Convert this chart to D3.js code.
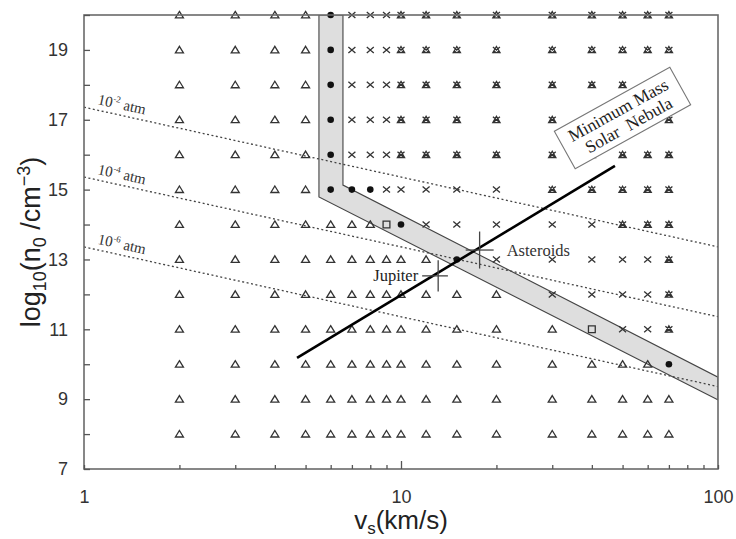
<!DOCTYPE html>
<html>
<head>
<meta charset="utf-8">
<script src="https://cdn.jsdelivr.net/npm/d3@7"></script>
<style>
  body { margin: 0; background: #fff; }
  svg { display: block; }
</style>
</head>
<body>
<svg id="chart"></svg>
<script>
// grid of runs: shock velocity (km/s) by log10 n0
var vsCols = [2, 3, 4, 5, 6, 7, 8, 9, 10, 12, 15, 20, 30, 40, 50, 60, 70];
var nRows = [20, 19, 18, 17, 16, 15, 14, 13, 12, 11, 10, 9, 8];
// t = triangle, c = filled circle, x = cross, k = cross + triangle, s = square
var markerRows = [
    "ttttcxxxkkkkkkkkk",
    "ttttcxxxkkkkkkkkk",
    "ttttcxxxkkkkkkkkk",
    "ttttcxxxkkkkkkkkk",
    "ttttcxxxkkkkkkkkk",
    "ttttcccxxxxxkkkkk",
    "tttttttscxxxxxkkk",
    "ttttttttttcxxxxxk",
    "ttttttttttttxxxxk",
    "tttttttttttttsxxk",
    "ttttttttttttttttc",
    "ttttttttttttttttt",
    "ttttttttttttttttt"
];

// shaded band
var bandV = [5.51, 5.51, 100, 100, 6.56, 6.56];
var bandN = [20, 14.79, 8.98, 9.63, 15.13, 20];

// constant pressure lines
var pressLabels = ["-2", "-4", "-6"];
var pressV = [1, 100];
var pressN = [[17.36, 13.36], [15.36, 11.36], [13.36, 9.36]];

// minimum mass solar nebula
var mmsnV = [4.7, 47.3];
var mmsnN = [10.18, 15.68];

// bodies with error crosses
var bodyNames = ["Jupiter", "Asteroids"];
var bodyV = [13.1, 17.7];
var bodyN = [12.53, 13.27];
var bodyVlo = [11.66, 16.0];
var bodyVhi = [14.06, 19.6];
var bodyNlo = [12.08, 12.74];
var bodyNhi = [12.98, 13.8];

var yTickValues = [7, 8, 9, 10, 11, 12, 13, 14, 15, 16, 17, 18, 19, 20];
var yTickLabels = [7, 9, 11, 13, 15, 17, 19];
var xTickValues = [1, 2, 3, 4, 5, 6, 7, 8, 9, 10, 20, 30, 40, 50, 60, 70, 80, 90, 100];
var xTickLabels = [1, 10, 100];

function draw() {
    var svgWidth = 736, svgHeight = 539;
    var pl = 84, pr = 718, pt = 15, pb = 469;

    var svg = d3.select("#chart")
        .attr("width", svgWidth)
        .attr("height", svgHeight);

    var x = d3.scaleLog().domain([1, 100]).range([pl, pr]);
    var y = d3.scaleLinear().domain([7, 20]).range([pb, pt]);

    svg.append("clipPath").attr("id", "plot")
        .append("rect")
        .attr("x", pl).attr("y", pt)
        .attr("width", pr - pl).attr("height", pb - pt);

    var ink = "#333";

    // band
    var bandPts = bandV.map(function(v, i) { return [x(v), y(bandN[i])]; });
    svg.append("path")
        .attr("clip-path", "url(#plot)")
        .attr("d", d3.line()(bandPts) + "Z")
        .attr("fill", "#dedede")
        .attr("stroke", "#444")
        .attr("stroke-width", 1.1);

    // dotted pressure lines
    svg.selectAll(".press")
        .data(pressN)
        .enter()
        .append("path")
        .attr("class", "press")
        .attr("clip-path", "url(#plot)")
        .attr("d", function(d) {
            return d3.line()(pressV.map(function(v, i) { return [x(v), y(d[i])]; }));
        })
        .attr("fill", "none")
        .attr("stroke", "#444")
        .attr("stroke-width", 1.3)
        .attr("stroke-dasharray", "2,2.5");

    // markers
    var points = [];
    nRows.forEach(function(n, r) {
        vsCols.forEach(function(v, c) {
            points.push({ v: v, n: n, t: markerRows[r][c] });
        });
    });

    var tri = "M0,-3.6L4,2.9L-4,2.9Z";
    var cross = "M-3.5,-3L3.5,3M-3.5,3L3.5,-3";
    var shapes = {
        t: tri,
        x: cross,
        k: cross + "M0,-3.4L3.6,2.8L-3.6,2.8Z",
        s: "M-3.4,-3.4h6.8v6.8h-6.8Z"
    };

    points.forEach(function(d) {
        if (d.t === "c") {
            svg.append("circle")
                .attr("cx", x(d.v)).attr("cy", y(d.n)).attr("r", 3.3)
                .attr("fill", "#111");
        } else {
            svg.append("path")
                .attr("transform", "translate(" + x(d.v) + "," + y(d.n) + ")")
                .attr("d", shapes[d.t])
                .attr("fill", "none")
                .attr("stroke", ink)
                .attr("stroke-width", 1.3);
        }
    });

    // frame
    svg.append("rect")
        .attr("x", pl).attr("y", pt)
        .attr("width", pr - pl).attr("height", pb - pt)
        .attr("fill", "none")
        .attr("stroke", "#6a6a6a")
        .attr("stroke-width", 1.6);

    // axes
    var yAxis = d3.axisLeft(y)
        .tickValues(yTickValues)
        .tickSizeInner(-6)
        .tickSizeOuter(0)
        .tickPadding(16)
        .tickFormat(function(d) { return yTickLabels.indexOf(d) >= 0 ? d : ""; });

    var gy = svg.append("g").attr("transform", "translate(" + pl + ",0)").call(yAxis);

    var xAxis = d3.axisBottom(x)
        .tickValues(xTickValues)
        .tickSizeInner(-4)
        .tickSizeOuter(0)
        .tickPadding(21)
        .tickFormat(function(d) { return xTickLabels.indexOf(d) >= 0 ? d : ""; });

    var gx = svg.append("g").attr("transform", "translate(0," + pb + ")").call(xAxis);
    gx.selectAll(".tick line").attr("y2", function(d) { return d === 10 ? -8 : -4; });

    [gx, gy].forEach(function(g) {
        g.select(".domain").remove();
        g.selectAll(".tick line").attr("stroke", "#555").attr("stroke-width", 1.3);
        g.selectAll(".tick text")
            .style("font-family", "Liberation Sans, Arial, sans-serif")
            .style("font-size", "18px")
            .attr("fill", "#333");
    });

    // MMSN line
    svg.append("path")
        .attr("d", d3.line()(mmsnV.map(function(v, i) { return [x(v), y(mmsnN[i])]; })))
        .attr("stroke", "#000")
        .attr("stroke-width", 2.6)
        .attr("fill", "none");

    // error crosses
    bodyNames.forEach(function(name, i) {
        svg.append("line")
            .attr("x1", x(bodyVlo[i])).attr("x2", x(bodyVhi[i]))
            .attr("y1", y(bodyN[i])).attr("y2", y(bodyN[i]))
            .attr("stroke", "#444").attr("stroke-width", 1.3);
        svg.append("line")
            .attr("x1", x(bodyV[i])).attr("x2", x(bodyV[i]))
            .attr("y1", y(bodyNlo[i])).attr("y2", y(bodyNhi[i]))
            .attr("stroke", "#444").attr("stroke-width", 1.3);
    });

    var serif = "Liberation Serif, Times New Roman, serif";

    svg.append("text")
        .attr("x", x(bodyVlo[0]) - 4)
        .attr("y", y(bodyN[0]) + 5)
        .attr("text-anchor", "end")
        .style("font-family", serif)
        .style("font-size", "16.5px")
        .attr("fill", "#222")
        .text(bodyNames[0]);

    svg.append("text")
        .attr("x", x(bodyVhi[1]) + 13)
        .attr("y", y(bodyN[1]) + 6)
        .style("font-family", serif)
        .style("font-size", "16.5px")
        .attr("fill", "#333")
        .text(bodyNames[1]);

    // pressure labels
    var angle = Math.atan2(y(pressN[0][1]) - y(pressN[0][0]), x(100) - x(1)) * 180 / Math.PI;
    pressN.forEach(function(d, i) {
        var px = 97;
        var py = y(d[0]) + (y(d[1]) - y(d[0])) * (px - pl) / (pr - pl) - 6;
        var t = svg.append("text")
            .attr("transform", "translate(" + px + "," + py + ") rotate(" + angle + ")")
            .style("font-family", serif)
            .style("font-size", "15px")
            .attr("fill", "#333");
        t.append("tspan").text("10");
        t.append("tspan").attr("dy", -6).style("font-size", "9px").text(pressLabels[i]);
        t.append("tspan").attr("dy", 6).text(" atm");
    });

    // MMSN box
    var box = svg.append("g").attr("transform", "translate(622.5,118) rotate(-29)");
    box.append("rect")
        .attr("x", -66).attr("y", -21.5)
        .attr("width", 132).attr("height", 43)
        .attr("fill", "#fff")
        .attr("stroke", "#777")
        .attr("stroke-width", 1.1);
    box.append("text")
        .attr("x", 0).attr("y", -3)
        .attr("text-anchor", "middle")
        .style("font-family", serif)
        .style("font-size", "17.5px")
        .attr("fill", "#222")
        .text("Minimum Mass");
    box.append("text")
        .attr("x", 2).attr("y", 15)
        .attr("text-anchor", "middle")
        .style("font-family", serif)
        .style("font-size", "17.5px")
        .style("word-spacing", "5px")
        .attr("fill", "#222")
        .text("Solar Nebula");

    // axis titles
    var sans = "Liberation Sans, Arial, sans-serif";
    var xt = svg.append("text")
        .attr("x", 401)
        .attr("y", 529)
        .attr("text-anchor", "middle")
        .style("font-family", sans)
        .style("font-size", "26px")
        .attr("fill", "#222");
    xt.append("tspan").text("v");
    xt.append("tspan").attr("dy", 5).style("font-size", "17px").text("s");
    xt.append("tspan").attr("dy", -5).text("(km/s)");

    var yt = svg.append("text")
        .attr("transform", "translate(40,242) rotate(-90)")
        .attr("text-anchor", "middle")
        .style("font-family", sans)
        .style("font-size", "27px")
        .attr("fill", "#222");
    yt.append("tspan").text("log");
    yt.append("tspan").attr("dy", 6).style("font-size", "18px").text("10");
    yt.append("tspan").attr("dy", -6).text("(n");
    yt.append("tspan").attr("dy", 6).style("font-size", "18px").text("0");
    yt.append("tspan").attr("dy", -6).text(" /cm");
    yt.append("tspan").attr("dy", -10).style("font-size", "18px").text("\u22123");
    yt.append("tspan").attr("dy", 10).text(")");
}

draw();
</script>
</body>
</html>
